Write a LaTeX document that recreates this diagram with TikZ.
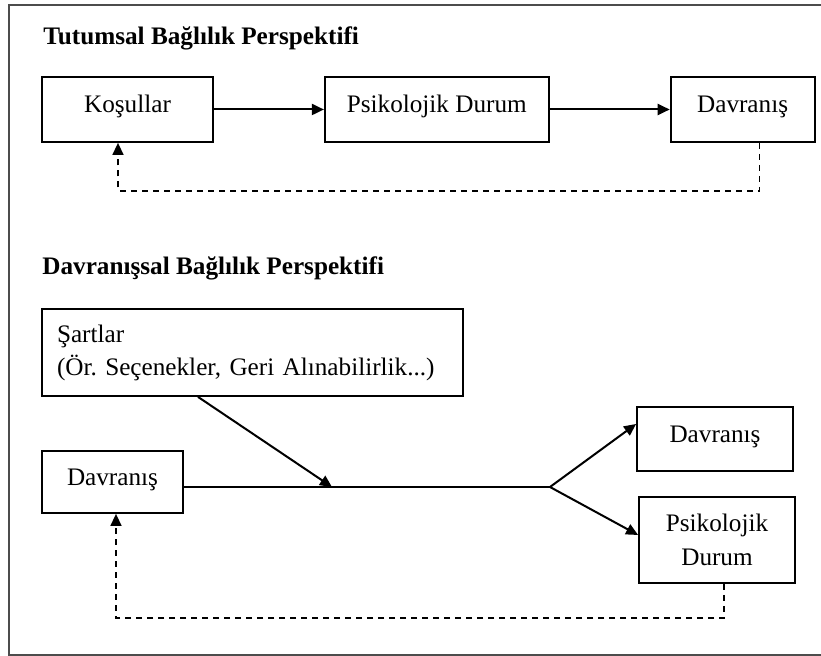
\documentclass[tikz,border=0pt]{standalone}
\usepackage{fontspec}
\setmainfont{Liberation Serif}
\usepackage{tikz}
\usetikzlibrary{arrows.meta, positioning}
\frenchspacing
\tikzset{
    basebox/.style={
        rectangle,
        draw=black,
        line width=0.9pt,
        inner sep=0pt,
        font=\fontsize{12.6}{16.5}\selectfont
    },
    block/.style={
        basebox,
        text centered,
        text height=9pt,
        text depth=5.5pt
    },
    tallblock/.style={
        basebox,
        align=center,
        font=\fontsize{12.6}{17}\selectfont
    },
    wideblock/.style={
        basebox,
        align=left,
        inner xsep=7.5pt,
        text width=195.5pt
    },
    heading/.style={
        anchor=base west,
        inner sep=0pt,
        font=\bfseries\fontsize{12.6}{15}\selectfont
    },
    connection/.style={
        draw=black,
        line width=1pt,
        -{Triangle[length=6pt,width=5.5pt]}
    },
    link/.style={
        draw=black,
        line width=1pt
    },
    feedback/.style={
        connection,
        line width=0.75pt,
        dash pattern=on 3pt off 2.5pt
    },
    frame/.style={
        draw=black!70,
        line width=1pt
    }
}
\begin{document}
\begin{tikzpicture}[x=0.5pt, y=-0.5pt]
\useasboundingbox (0,0) rectangle (821,656);
\draw[frame] (9,5) rectangle (840,655);

% Tutumsal
\node[heading] (title1) at (43,45) {Tutumsal Bağlılık Perspektifi};
\node[block, minimum width=85.5pt, minimum height=32.5pt] (kosul) at (127.5,109.5) {Koşullar};
\node[block, minimum width=112pt, minimum height=32.5pt, right=55pt of kosul] (psiko) {Psikolojik Durum};
\node[block, minimum width=72pt, minimum height=32.5pt, right=60pt of psiko] (davran) {Davranış};

\draw[connection] (kosul) -- (psiko);
\draw[connection] (psiko) -- (davran);
\draw[feedback] ([xshift=8.5pt]davran.south) -- ++(0,48) -| ([xshift=-4.75pt]kosul.south);

% Davranissal
\node[heading] (title2) at (42,275) {Davranışsal Bağlılık Perspektifi};
\node[wideblock, minimum height=43.5pt] (sartlar) at (252.5,352.5) {Şartlar\\(Ör. Seçenekler, Geri Alınabilirlik...)};
\node[block, minimum width=70.5pt, minimum height=31pt] (davranA) at (112.5,482) {Davranış};
\node[block, minimum width=78pt, minimum height=32pt] (davranB) at (715,439) {Davranış};
\node[tallblock, minimum width=78pt, minimum height=43pt] (psikoB) at (717,540) {Psikolojik\\Durum};
\coordinate (split) at (550,487);
\coordinate (meet) at (332,487);

\draw[link] (davranA.east |- split) -- (split);
\draw[connection] ([xshift=-27.25pt]sartlar.south) -- (meet);
\draw[connection] (split) -- ([yshift=7.5pt]davranB.west);
\draw[connection] (split) -- ([yshift=2.5pt]psikoB.west);
\draw[feedback] ([xshift=3.5pt]psikoB.south) -- ++(0,34) -| ([xshift=1.75pt]davranA.south);
\end{tikzpicture}
\end{document}
